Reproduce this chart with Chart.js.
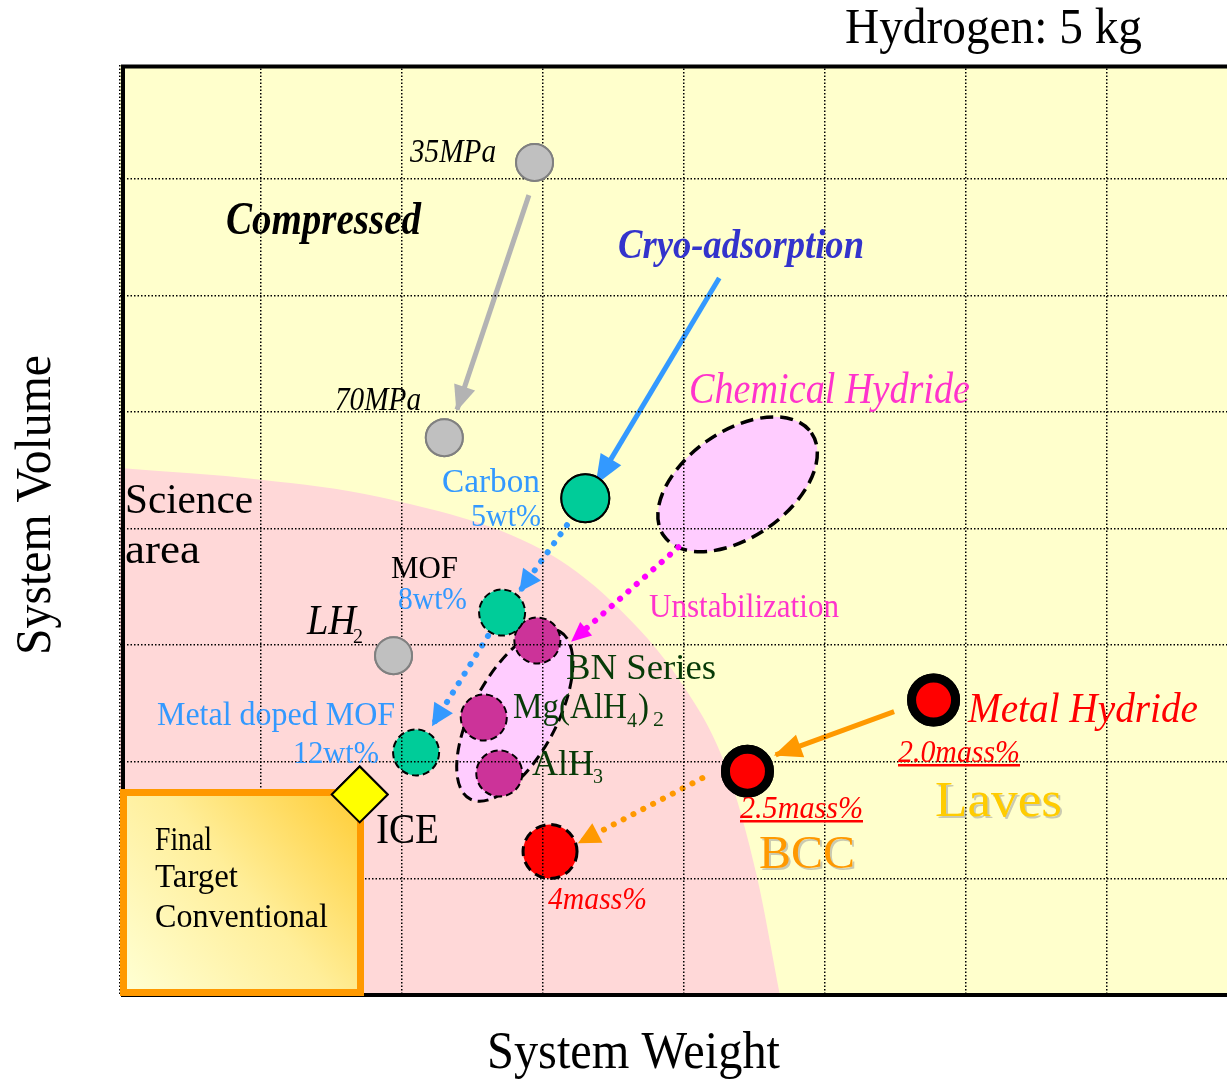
<!DOCTYPE html>
<html>
<head>
<meta charset="utf-8">
<script src="https://cdn.jsdelivr.net/npm/chart.js@4"></script>
<style>
  html, body { margin: 0; padding: 0; background: #fff; overflow: hidden; }
  canvas { display: block; }
</style>
</head>
<body>
<canvas id="myChart" width="1227" height="1081"></canvas>
<script>
// boundary of the pink "Science area"
const scienceX = [0, 1.0, 1.84, 2.99, 3.50, 3.99, 4.30, 4.52, 4.68];
const scienceY = [4.52, 4.42, 4.27, 3.82, 3.36, 2.66, 1.95, 1.00, 0];

// 35MPa, 70MPa, LH2
const compressedX = [2.94, 2.30, 1.94];
const compressedY = [7.14, 4.78, 2.91];

// Carbon 5wt%
const carbonX = [3.30];
const carbonY = [4.26];
// MOF 8wt%, Metal doped MOF 12wt%
const mofX = [2.71, 2.10];
const mofY = [3.28, 2.08];

// BN Series, Mg(AlH4)2, AlH3
const chemicalX = [2.96, 2.58, 2.69];
const chemicalY = [3.04, 2.38, 1.90];
// centres of the dashed regions: Chemical Hydride, BN group
const regionX = [4.38, 2.80];
const regionY = [4.38, 2.40];

// Laves 2.0mass%, BCC 2.5mass%
const metalX = [5.77, 4.45];
const metalY = [2.53, 1.92];
// 4mass%
const targetMetalX = [3.05];
const targetMetalY = [1.23];

// ICE
const iceX = [1.70];
const iceY = [1.72];

// arrows, [from, to]
const arrowCompressed = [[2.90, 6.86], [2.39, 5.02]];
const arrowCryo = [[4.25, 6.15], [3.38, 4.39]];
const arrowCarbonMof = [[3.17, 4.03], [2.84, 3.47]];
const arrowMofMetal = [[2.61, 3.08], [2.22, 2.32]];
const arrowUnstable = [[3.96, 3.84], [3.21, 3.04]];
const arrowLaves = [[5.49, 2.43], [4.65, 2.06]];
const arrowBcc = [[4.13, 1.86], [3.26, 1.31]];

const pts = (xs, ys) => xs.map((x, i) => ({ x: x, y: ys[i] }));

function arrow(points, color, dotted, head) {
  return {
    type: 'line',
    data: points.map(p => ({ x: p[0], y: p[1] })),
    borderColor: color,
    borderWidth: dotted ? 6 : 5,
    borderDash: dotted ? [0.1, 11] : [],
    borderCapStyle: dotted ? 'round' : 'butt',
    pointRadius: 0,
    fill: false,
    order: 5,
    arrow: head,
  };
}

const notes = [
  { t: 'Hydrogen: 5 kg', x: 845, y: 43, w: 297, f: '50px "Liberation Serif"', c: '#000' },
  { t: 'System Weight', x: 487, y: 1068, w: 293, f: '52px "Liberation Serif"', c: '#000' },
  { t: '35MPa', x: 410, y: 162, w: 86, f: 'italic 33px "Liberation Serif"', c: '#000' },
  { t: 'Compressed', x: 226, y: 234, w: 195, f: 'italic bold 46px "Liberation Serif"', c: '#000' },
  { t: '70MPa', x: 335, y: 410, w: 86, f: 'italic 33px "Liberation Serif"', c: '#000' },
  { t: 'Cryo-adsorption', x: 618, y: 258, w: 246, f: 'italic bold 42px "Liberation Serif"', c: '#3333CC' },
  { t: 'Chemical Hydride', x: 689, y: 403, w: 281, f: 'italic 45px "Liberation Serif"', c: '#FF33CC' },
  { t: 'Science', x: 125, y: 513, w: 128, f: '42px "Liberation Serif"', c: '#000' },
  { t: 'area', x: 125, y: 563, w: 75, f: '42px "Liberation Serif"', c: '#000' },
  { t: 'Carbon', x: 442, y: 492, w: 98, f: '33px "Liberation Serif"', c: '#3399FF' },
  { t: '5wt%', x: 471, y: 526, w: 70, f: '32px "Liberation Serif"', c: '#3399FF' },
  { t: 'MOF', x: 391, y: 578, w: 67, f: '32px "Liberation Serif"', c: '#000' },
  { t: '8wt%', x: 398, y: 609, w: 69, f: '32px "Liberation Serif"', c: '#3399FF' },
  { t: 'LH', x: 307, y: 634, w: 49, f: 'italic 42px "Liberation Serif"', c: '#000' },
  { t: '2', x: 353, y: 643, w: 10, f: '20px "Liberation Serif"', c: '#000' },
  { t: 'Metal doped MOF', x: 157, y: 725, w: 238, f: '33px "Liberation Serif"', c: '#3399FF' },
  { t: '12wt%', x: 293, y: 763, w: 86, f: '32px "Liberation Serif"', c: '#3399FF' },
  { t: 'ICE', x: 376, y: 843, w: 63, f: '42px "Liberation Serif"', c: '#000' },
  { t: '4mass%', x: 548, y: 909, w: 99, f: 'italic 31px "Liberation Serif"', c: '#FF0000' },
  { t: 'BN Series', x: 566, y: 679, w: 150, f: '35px "Liberation Serif"', c: '#073A07' },
  { t: 'Mg(AlH', x: 513, y: 718, w: 114, f: '36px "Liberation Serif"', c: '#073A07' },
  { t: '4', x: 627, y: 727, w: 10, f: '20px "Liberation Serif"', c: '#073A07' },
  { t: ')', x: 638, y: 718, w: 11, f: '36px "Liberation Serif"', c: '#073A07' },
  { t: '2', x: 653, y: 726, w: 11, f: '20px "Liberation Serif"', c: '#073A07' },
  { t: 'AlH', x: 532, y: 775, w: 62, f: '36px "Liberation Serif"', c: '#073A07' },
  { t: '3', x: 593, y: 783, w: 10, f: '20px "Liberation Serif"', c: '#073A07' },
  { t: 'Unstabilization', x: 649, y: 617, w: 190, f: '33px "Liberation Serif"', c: '#FF33CC' },
  { t: 'Metal Hydride', x: 968, y: 722, w: 230, f: 'italic 43px "Liberation Serif"', c: '#FF0000' },
  { t: '2.0mass%', x: 898, y: 762, w: 122, f: 'italic 31px "Liberation Serif"', c: '#FF0000', u: true },
  { t: '2.5mass%', x: 740, y: 818, w: 123, f: 'italic 31px "Liberation Serif"', c: '#FF0000', u: true },
  { t: 'Laves', x: 935, y: 816, w: 127, f: '51px "Liberation Serif"', c: '#FFCC00', s: true },
  { t: 'BCC', x: 759, y: 868, w: 96, f: '47px "Liberation Serif"', c: '#FF9900', s: true },
  { t: 'Final', x: 155, y: 850, w: 57, f: '34px "Liberation Serif"', c: '#000' },
  { t: 'Target', x: 155, y: 887, w: 83, f: '34px "Liberation Serif"', c: '#000' },
  { t: 'Conventional', x: 155, y: 927, w: 173, f: '34px "Liberation Serif"', c: '#000' },
];

function drawNote(ctx, n) {
  ctx.save();
  ctx.font = n.f;
  ctx.fillStyle = n.c;
  ctx.textBaseline = 'alphabetic';
  const sx = n.w / ctx.measureText(n.t).width;
  ctx.translate(n.x, n.y);
  ctx.scale(sx, 1);
  if (n.s) {
    ctx.shadowColor = 'rgba(150,150,150,0.5)';
    ctx.shadowOffsetX = 2;
    ctx.shadowOffsetY = 2;
  }
  ctx.fillText(n.t, 0, 0);
  ctx.restore();
  if (n.u) {
    ctx.fillStyle = n.c;
    ctx.fillRect(n.x, n.y + 2, n.w, 2.5);
  }
}

const diagramPlugin = {
  id: 'diagram',
  beforeDraw(chart) {
    const { ctx, chartArea: a } = chart;
    ctx.save();
    ctx.fillStyle = '#FFFFCC';
    ctx.fillRect(a.left, a.top, a.right - a.left, a.bottom - a.top);
    ctx.restore();
  },
  beforeDatasetDraw(chart, args) {
    const ds = chart.data.datasets[args.index];
    if (ds.dashed) {
      chart.ctx.save();
      chart.ctx.setLineDash(ds.dashed);
    }
  },
  afterDatasetDraw(chart, args) {
    const ds = chart.data.datasets[args.index];
    const ctx = chart.ctx;
    if (ds.dashed) ctx.restore();
    if (ds.science) {
      // dashed regions of the chemical hydrides
      const x = chart.scales.x, y = chart.scales.y;
      const shapes = [[90, 53, -0.61, 3.5, [13, 7]], [95, 42, -1.08, 3, [11, 6]]];
      regionX.forEach((v, i) => {
        const s = shapes[i];
        ctx.save();
        ctx.beginPath();
        ctx.ellipse(x.getPixelForValue(v), y.getPixelForValue(regionY[i]), s[0], s[1], s[2], 0, Math.PI * 2);
        ctx.fillStyle = '#FFCCFF';
        ctx.fill();
        ctx.setLineDash(s[4]);
        ctx.lineWidth = s[3];
        ctx.strokeStyle = '#000';
        ctx.stroke();
        ctx.restore();
      });
    }
    if (ds.arrow) {
      const p = args.meta.data;
      const a = p[p.length - 2], b = p[p.length - 1];
      const ang = Math.atan2(b.y - a.y, b.x - a.x);
      ctx.save();
      ctx.translate(b.x, b.y);
      ctx.rotate(ang);
      ctx.beginPath();
      ctx.moveTo(2, 0);
      ctx.lineTo(-ds.arrow[0], -ds.arrow[1]);
      ctx.lineTo(-ds.arrow[0], ds.arrow[1]);
      ctx.closePath();
      ctx.fillStyle = ds.borderColor;
      ctx.fill();
      ctx.restore();
    }
  },
  afterDraw(chart) {
    const { ctx, chartArea: a } = chart;
    // frame
    ctx.save();
    ctx.strokeStyle = '#000';
    ctx.lineWidth = 4;
    ctx.beginPath();
    ctx.moveTo(a.right, 66.5);
    ctx.lineTo(123, 66.5);
    ctx.lineTo(123, a.bottom);
    ctx.lineTo(a.right, a.bottom);
    ctx.stroke();
    // final target box
    const g = ctx.createLinearGradient(130, 990, 362, 792);
    g.addColorStop(0, '#FFFFD2');
    g.addColorStop(0.5, '#FFEE99');
    g.addColorStop(1, '#FFCC33');
    ctx.fillStyle = g;
    ctx.fillRect(123.5, 792.5, 237, 200);
    ctx.strokeStyle = '#FF9900';
    ctx.lineWidth = 7;
    ctx.strokeRect(123.5, 792.5, 237, 200);
    ctx.restore();
    // solid-edged markers sit on top of the grid
    chart.data.datasets.forEach((ds, i) => {
      if (ds.redraw) chart.getDatasetMeta(i).controller.draw();
    });
    notes.forEach(n => drawNote(ctx, n));
    ctx.save();
    ctx.translate(50, 655);
    ctx.rotate(-Math.PI / 2);
    drawNote(ctx, { t: 'System Volume', x: 0, y: 0, w: 300, f: '50px "Liberation Serif"', c: '#000' });
    ctx.restore();
  }
};

const gridStyle = { color: '#000', lineWidth: 1.5, drawTicks: false, z: 1 };

new Chart(
  document.getElementById('myChart'),
  {
    type: 'scatter',
    data: {
      datasets: [
        {
          type: 'line',
          label: 'Science area',
          data: pts(scienceX, scienceY),
          borderWidth: 0,
          borderColor: 'rgba(0,0,0,0)',
          backgroundColor: '#FFD8D8',
          fill: 'origin',
          cubicInterpolationMode: 'monotone',
          pointRadius: 0,
          order: 10,
          science: true,
        },
        arrow(arrowCompressed, '#B3B3B3', false, [24, 11]),
        arrow(arrowCryo, '#3399FF', false, [28, 12]),
        arrow(arrowCarbonMof, '#3399FF', true, [20, 11]),
        arrow(arrowMofMetal, '#3399FF', true, [20, 11]),
        arrow(arrowUnstable, '#FF00FF', true, [18, 9]),
        arrow(arrowLaves, '#FF9900', false, [26, 12]),
        arrow(arrowBcc, '#FF9900', true, [20, 11]),
        {
          label: 'Compressed',
          data: pts(compressedX, compressedY),
          backgroundColor: '#C0C0C0',
          borderColor: '#808080',
          borderWidth: 2,
          pointRadius: 18.5,
          order: 1,
          redraw: true,
        },
        {
          label: 'Carbon',
          data: pts(carbonX, carbonY),
          backgroundColor: '#00CC99',
          borderColor: '#000',
          borderWidth: 2,
          pointRadius: 24,
          order: 1,
          redraw: true,
        },
        {
          label: 'MOF',
          data: pts(mofX, mofY),
          backgroundColor: '#00CC99',
          borderColor: '#000',
          borderWidth: 2,
          pointRadius: 23,
          order: 1,
          dashed: [7, 4],
        },
        {
          label: 'Chemical',
          data: pts(chemicalX, chemicalY),
          backgroundColor: '#CC3399',
          borderColor: '#000',
          borderWidth: 2,
          pointRadius: 23,
          order: 1,
          dashed: [7, 4],
        },
        {
          label: 'Metal hydride',
          data: pts(metalX, metalY),
          backgroundColor: '#FF0000',
          borderColor: '#000',
          borderWidth: 9,
          pointRadius: 22,
          order: 1,
          redraw: true,
        },
        {
          label: '4mass%',
          data: pts(targetMetalX, targetMetalY),
          backgroundColor: '#FF0000',
          borderColor: '#000',
          borderWidth: 3,
          pointRadius: 27,
          order: 1,
          dashed: [10, 6],
        },
        {
          label: 'ICE',
          data: pts(iceX, iceY),
          pointStyle: 'rectRot',
          backgroundColor: '#FFFF00',
          borderColor: '#000',
          borderWidth: 2,
          pointRadius: 28,
          order: 1,
          redraw: true,
        },
      ],
    },
    options: {
      responsive: false,
      devicePixelRatio: 1,
      animation: false,
      events: [],
      layout: { autoPadding: false, padding: { left: 120, top: 65, right: 0, bottom: 86 } },
      plugins: { legend: { display: false }, tooltip: { enabled: false } },
      scales: {
        x: {
          type: 'linear',
          min: 0,
          max: 7.851,
          ticks: { display: false, stepSize: 1, includeBounds: false },
          grid: gridStyle,
          border: { display: false, dash: [1.5, 2] },
          afterFit: s => { s.height = 0; s.paddingLeft = 0; s.paddingRight = 0; },
        },
        y: {
          type: 'linear',
          min: 0,
          max: 7.976,
          ticks: { display: false, stepSize: 1, includeBounds: false },
          grid: gridStyle,
          border: { display: false, dash: [1.5, 2] },
          afterFit: s => { s.width = 0; s.paddingTop = 0; s.paddingBottom = 0; },
        },
      },
    },
    plugins: [diagramPlugin],
  }
);
</script>
</body>
</html>
